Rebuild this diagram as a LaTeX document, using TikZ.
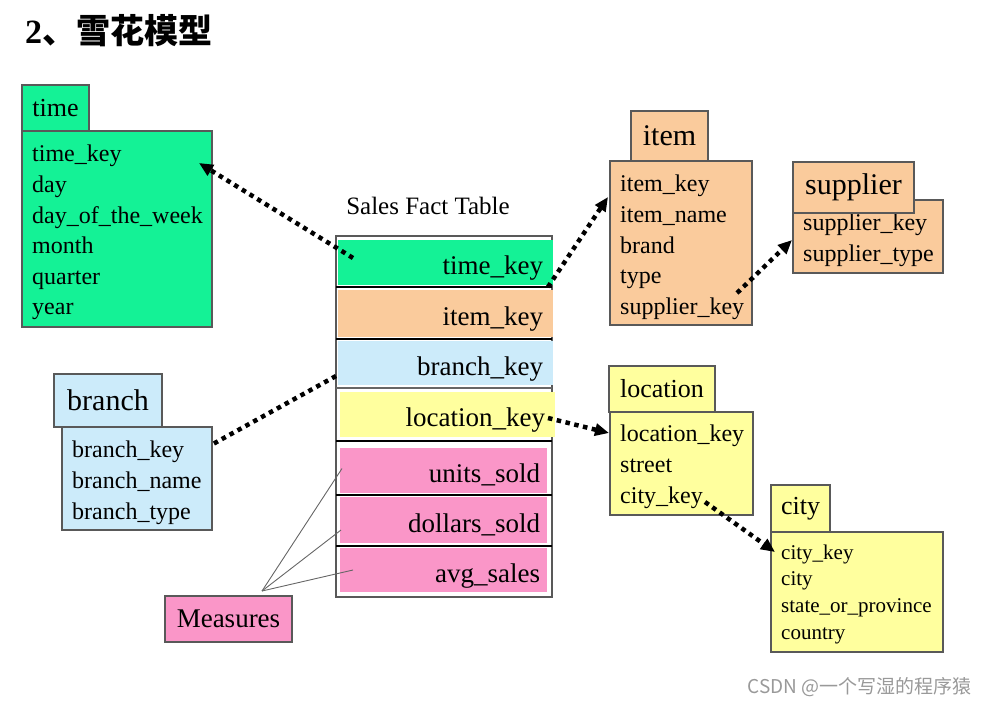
\documentclass[tikz,border=0pt]{standalone}
\usepackage{fontspec}
\setmainfont{Liberation Serif}
\newfontfamily\cjk{Noto Sans CJK SC}
\usetikzlibrary{arrows.meta,calc,positioning}

\definecolor{timegreen}{RGB}{20,242,150}
\definecolor{itemorange}{RGB}{250,203,156}
\definecolor{branchblue}{RGB}{204,235,250}
\definecolor{locyellow}{RGB}{255,255,158}
\definecolor{measpink}{RGB}{250,150,200}

\begin{document}
\begin{tikzpicture}[
    x=1pt, y=-1pt,
    box/.style     = {draw=black!65, line width=1.2pt, inner sep=0pt, outer sep=0pt},
    body/.style    = {box, anchor=north west},
    head/.style    = {box, anchor=south west, font=\fontsize{26}{26}\selectfont},
    bighead/.style = {head, font=\fontsize{30}{30}\selectfont},
    fields/.style  = {anchor=north west, inner sep=0pt, align=left, font=\fontsize{24}{30.6}\selectfont},
    keyrow/.style  = {anchor=north west, inner sep=0pt, inner xsep=10pt, outer sep=0pt, text width=195pt,
                      align=right, text height=30pt, text depth=6pt, font=\fontsize{27}{27}\selectfont},
    measrow/.style = {keyrow, inner xsep=7pt, text width=193pt, fill=measpink},
    fk/.style      = {line width=4.5pt, dash pattern=on 4.5pt off 4.5pt},
    fkarrow/.style = {fk, -{Triangle[length=14pt,width=12pt]}},
    mline/.style   = {black!60, line width=0.9pt},
    rowsep/.style  = {black, line width=1.4pt},
  ]
  \useasboundingbox (0,0) rectangle (987,704);

  % Ueberschrift
  \node[anchor=west, inner sep=0pt, font=\fontsize{34}{34}\selectfont\bfseries] (title) at (25,31) {2{\cjk 、雪花模型}};

  % Faktentabelle
  \node[font=\fontsize{25}{25}\selectfont] (facttitle) at (428,206) {Sales Fact Table};
  \node[body, minimum width=216pt, minimum height=361pt] (fact) at (336,236) {};
  \node[keyrow, fill=timegreen, minimum height=45pt] (f-time) at (338,240) {time\_key};
  \node[keyrow, fill=itemorange, minimum height=47pt] (f-item) at (338,290) {item\_key};
  \node[keyrow, fill=branchblue, minimum height=44pt] (f-branch) at (338,341) {branch\_key};
  \node[keyrow, fill=locyellow, minimum height=45pt] (f-loc) at (340,392) {location\_key};
  \node[measrow, minimum height=45pt] (f-units) at (340,448) {units\_sold};
  \node[measrow, minimum height=46pt] (f-doll) at (340,497) {dollars\_sold};
  \node[measrow, minimum height=44pt] (f-avg) at (340,548) {avg\_sales};

  % Trennlinien
  \draw[rowsep] (336,287) -- (552,287);
  \draw[rowsep] (336,339) -- (552,339);
  \draw[rowsep, black!60] (336,388) -- (552,388);
  \draw[rowsep] (336,441) -- (552,441);
  \draw[rowsep] (336,495) -- (552,495);
  \draw[rowsep] (336,546) -- (552,546);

  % time
  \node[body, fill=timegreen, minimum width=190pt, minimum height=196pt] (time-b) at (22,131) {};
  \node[fields] (time-f) at ($(time-b.north west)+(10,14)$) {time\_key\\day\\day\_of\_the\_week\\month\\quarter\\year};
  \node[head, fill=timegreen, minimum width=67pt, minimum height=46pt] (time-h) at (time-b.north west) {time};

  % item
  \node[body, fill=itemorange, minimum width=142pt, minimum height=164pt] (item-b) at (610,161) {};
  \node[fields] (item-f) at ($(item-b.north west)+(10,14)$) {item\_key\\item\_name\\brand\\type\\supplier\_key};
  \node[bighead, fill=itemorange, minimum width=77pt, minimum height=50pt] (item-h) at ($(item-b.north west)+(21,0)$) {item};

  % supplier
  \node[body, fill=itemorange, minimum width=150pt, minimum height=73pt] (sup-b) at (793,200) {};
  \node[fields] (sup-f) at ($(sup-b.north west)+(10,14)$) {supplier\_key\\supplier\_type};
  \node[bighead, fill=itemorange, minimum width=121pt, minimum height=51pt] (sup-h) at ($(sup-b.north west)+(0,13)$) {supplier};

  % branch
  \node[body, fill=branchblue, minimum width=150pt, minimum height=103pt] (br-b) at (62,427) {};
  \node[fields] (br-f) at ($(br-b.north west)+(10,14)$) {branch\_key\\branch\_name\\branch\_type};
  \node[bighead, fill=branchblue, minimum width=108pt, minimum height=53pt] (br-h) at ($(br-b.north west)+(-8,0)$) {branch};

  % location
  \node[body, fill=locyellow, minimum width=143pt, minimum height=103pt] (loc-b) at (610,412) {};
  \node[fields] (loc-f) at ($(loc-b.north west)+(10,13)$) {location\_key\\street\\city\_key};
  \node[head, fill=locyellow, minimum width=106pt, minimum height=46pt] (loc-h) at ($(loc-b.north west)+(-1,0)$) {location};

  % city
  \node[body, fill=locyellow, minimum width=172pt, minimum height=120pt] (city-b) at (771,532) {};
  \node[fields, font=\fontsize{21}{26.7}\selectfont] (city-f) at ($(city-b.north west)+(10,12.5)$) {city\_key\\city\\state\_or\_province\\country};
  \node[head, fill=locyellow, minimum width=59pt, minimum height=47pt] (city-h) at (city-b.north west) {city};

  % Fremdschluessel
  \draw[fkarrow] ($(f-time.west)+(15,-4.5)$) -- ($(time-b.north east)+(-13,32)$);
  \draw[fkarrow] ($(f-item.north east)+(-5,-3)$) -- ($(item-b.north west)+(-2,36)$);
  \draw[fkarrow] ($(item-b.south east)+(-15,-32)$) -- ($(sup-b.west)+(-1,3.5)$);
  \draw[fk] ($(f-branch.west)+(-2,13)$) -- ($(br-b.north east)+(1,17)$);
  \draw[fkarrow] ($(f-loc.east)+(-7,3.5)$) -- ($(loc-b.north west)+(-1,21)$);
  \draw[fkarrow] ($(loc-b.south east)+(-48,-13)$) -- ($(city-b.north west)+(4,20)$);

  % Kennzahlen
  \node[box, fill=measpink, minimum width=127pt, minimum height=46pt, font=\fontsize{27}{27}\selectfont] (meas) at (228.5,619) {Measures};
  \coordinate (meas-c) at ($(meas.north)+(33.5,-5)$);
  \draw[mline] (meas-c) -- ($(f-units.west)+(2,-2)$);
  \draw[mline] (meas-c) -- ($(f-doll.west)+(1,10)$);
  \draw[mline] (meas-c) -- ($(f-avg.west)+(13,0)$);

  % Wasserzeichen
  \node[anchor=east, inner sep=0pt, text=black!40, font=\cjk\fontsize{19}{19}\selectfont] (mark) at (972,687) {CSDN @一个写湿的程序猿};
\end{tikzpicture}
\end{document}
